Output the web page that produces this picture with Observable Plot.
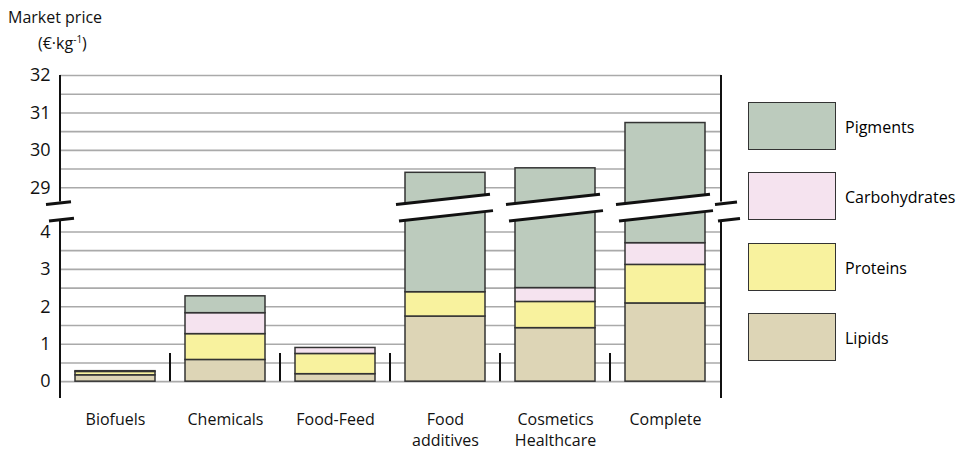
<!DOCTYPE html>
<html><head><meta charset="utf-8">
<script src="https://cdn.jsdelivr.net/npm/d3@7"></script>
<script src="https://cdn.jsdelivr.net/npm/@observablehq/plot@0.6"></script>
<style>
body{margin:0;background:#fff;font-family:"Open Sans",sans-serif;}
#wrap{position:relative;width:973px;height:459px;}
.t{position:absolute;font-size:16px;color:#111;}
.lg{position:absolute;left:748px;width:86px;height:46px;border:1.5px solid #333;}
.ll{position:absolute;left:845px;font-size:16px;}
</style></head>
<body><div id="wrap">
<div class="t" style="left:8px;top:6px">Market price</div>
<div class="t" style="left:38px;top:32px">(€·kg<sup style="font-size:10px">-1</sup>)</div>
<div id="chart" style="position:absolute;left:0;top:0"></div>
<div id="legend"></div>
</div>
<script>
const categories = ["Biofuels", "Chemicals", "Food-Feed", "Food\nadditives", "Cosmetics\nHealthcare", "Complete"];
const series = ["Lipids", "Proteins", "Carbohydrates", "Pigments"];
const lipids        = [0.17, 0.58, 0.20, 1.74, 1.43, 2.09];
const proteins      = [0.09, 0.69, 0.54, 0.65, 0.70, 1.03];
const carbohydrates = [0.02, 0.56, 0.16, 0,    0.37, 0.58];
const pigments      = [0,    0.45, 0,    27.01, 27.02, 27.03];
const colors = ["#ddd5b6", "#f8f29e", "#f5e3ef", "#bccbbd"];
const yTicks = [0, 1, 2, 3, 4, 29, 30, 31, 32];

// broken axis: 0–4 kept, 29–32 shifted down
const gap = 1.18;
const f = v => v > 4.6 ? v - 29 + 4 + gap : v;
const finv = t => t > 4.6 ? Math.round(t + 29 - 4 - gap) : t;

const values = [lipids, proteins, carbohydrates, pigments];
const rows = [];
categories.forEach((c, i) => {
  let base = 0;
  series.forEach((s, j) => {
    const v = values[j][i];
    if (v > 0) rows.push({cat: c, series: s, y1: f(base), y2: f(base + v)});
    base += v;
  });
});
const grid = [];
for (let v = 0; v <= 4; v += 0.5) grid.push(v);
for (let v = 29; v <= 32; v += 0.5) grid.push(v);

const chart = Plot.plot({
  width: 973, height: 459,
  marginLeft: 60, marginRight: 252, marginTop: 75, marginBottom: 61,
  style: {fontFamily: "Open Sans, sans-serif", background: "transparent"},
  x: {domain: categories, paddingInner: 0.272, paddingOuter: 0.136, label: null},
  y: {domain: [-0.45, f(32)], label: null},
  color: {domain: series, range: colors},
  marks: [
    Plot.ruleY(grid.map(f), {stroke: "#aaa", strokeWidth: 1.6}),
    Plot.barY(rows, {x: "cat", y1: "y1", y2: "y2", fill: "series", stroke: "#333", strokeWidth: 1.5}),
    Plot.axisY(yTicks.map(f), {tickFormat: finv, tickSize: 0, tickPadding: 10, fontSize: 18, fill: "#111", label: null}),
    Plot.axisX({tickSize: 0, tickPadding: 12, fontSize: 16, fill: "#111", lineHeight: 1.3, label: null})
  ]
});
document.getElementById("chart").append(chart);

// frame lines, separators and axis breaks drawn from the scales
const X = chart.scale("x"), Y = chart.scale("y");
const step = X.step, bw = X.bandwidth;
const svg = d3.select(chart);
const g = svg.append("g").attr("stroke", "#111").attr("fill", "none");
const x0 = 60, x1 = 721;
const yb = Y.apply(-0.45), yTop = Y.apply(f(32));
const yLo = Y.apply(4.3), yHi = Y.apply(4.8);
[x0, x1].forEach(x => {
  g.append("line").attr("x1", x).attr("x2", x).attr("y1", yTop).attr("y2", yHi).attr("stroke-width", 2);
  g.append("line").attr("x1", x).attr("x2", x).attr("y1", yLo).attr("y2", yb).attr("stroke-width", 2);
});
for (let i = 1; i < categories.length; i++) {
  const x = X.apply(categories[i]) - (step - bw) / 2;
  g.append("line").attr("x1", x).attr("x2", x).attr("y1", Y.apply(0.75)).attr("y2", Y.apply(0)).attr("stroke-width", 2);
}
function brk(xa, xb) {
  const w = xb - xa, sl = w * 0.11;
  const up = Y.apply(4.72), lo = Y.apply(4.28);
  svg.append("polygon").attr("fill", "#fff")
    .attr("points", `${xa},${up} ${xb},${up - sl} ${xb + 3},${lo - sl} ${xa + 3},${lo}`);
  svg.append("line").attr("x1", xa).attr("y1", up).attr("x2", xb).attr("y2", up - sl).attr("stroke", "#111").attr("stroke-width", 3);
  svg.append("line").attr("x1", xa + 3).attr("y1", lo).attr("x2", xb + 3).attr("y2", lo - sl).attr("stroke", "#111").attr("stroke-width", 3);
}
brk(46, 71);
brk(x1 - 6, x1 + 16);
categories.forEach((c, i) => {
  if (pigments[i] > 20) { const xs = X.apply(c); brk(xs - 9, xs + bw + 5); }
});

// legend
const lg = d3.select("#legend");
const tops = [102, 172, 243, 313];
["Pigments", "Carbohydrates", "Proteins", "Lipids"].forEach((s, i) => {
  lg.append("div").attr("class", "lg").style("top", tops[i] + "px").style("background", colors[series.indexOf(s)]);
  lg.append("div").attr("class", "ll").style("top", (tops[i] + 14) + "px").text(s);
});
</script></body></html>
